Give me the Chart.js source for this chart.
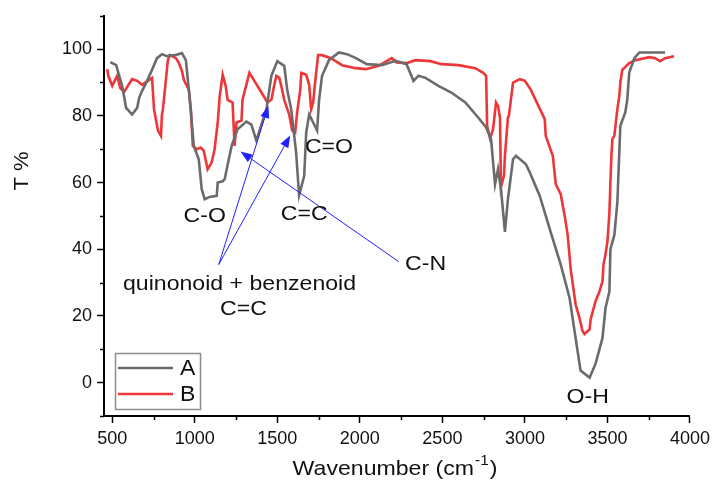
<!DOCTYPE html>
<html>
<head>
<meta charset="utf-8">
<script src="https://cdn.jsdelivr.net/npm/chart.js@4/dist/chart.umd.min.js"></script>
<style>
  html, body { margin: 0; padding: 0; background: #ffffff; }
  canvas { display: block; }
</style>
</head>
<body>
<canvas id="c" width="715" height="481"></canvas>
<script>
// ---- data ----
const waveA = [488,524,542,560,584,620,651,663,681,711,741,771,801,831,880,922,946,970,994,1024,1042,1060,1090,1133,1139,1169,1181,1223,1259,1313,1343,1373,1392,1434,1464,1500,1542,1560,1584,1614,1632,1663,1675,1693,1723,1741,1753,1771,1813,1873,1922,1976,2042,2133,2217,2283,2325,2355,2398,2476,2554,2639,2717,2765,2795,2819,2837,2855,2879,2897,2928,2946,3006,3030,3090,3157,3217,3271,3289,3319,3337,3392,3428,3470,3488,3512,3518,3542,3560,3578,3608,3620,3632,3663,3693,3849];
const transA = [96.1,95.2,92,89,82.4,80.4,82.4,85.4,87.5,90.5,93.8,97.3,98.5,97.9,98.2,98.8,96.7,84.8,71,67,58,55,55.7,56,60,60.4,61,71,76,78.3,77.4,72.6,75.6,82,92,96.4,95,87.8,82,69,56.2,62,75,80.4,77.4,75.6,84.8,92,96.7,99,98.5,97.3,95.5,95.2,96.5,95.5,90.5,92,91.4,89,87,84,79.5,76.5,73,59.5,64,58,45.2,55,67,68,65.5,63,56,45,35.4,25.3,19.3,9.5,3.6,1.5,5.7,13.4,22.3,27.4,40,44.3,54,77,81,84.8,93,97.3,99,99];

const waveB = [470,476,500,530,548,572,620,651,681,741,753,777,795,801,807,825,837,849,886,904,922,934,964,976,988,1012,1036,1054,1078,1102,1120,1139,1151,1169,1187,1199,1229,1241,1253,1283,1289,1331,1361,1404,1440,1464,1482,1494,1512,1524,1542,1572,1590,1608,1620,1639,1645,1675,1693,1705,1717,1729,1747,1771,1825,1892,1976,2036,2114,2193,2223,2283,2337,2428,2494,2596,2699,2747,2765,2771,2789,2807,2825,2837,2849,2855,2873,2879,2897,2903,2928,2970,3000,3036,3120,3126,3169,3187,3217,3241,3259,3277,3307,3331,3349,3361,3392,3398,3428,3452,3470,3476,3488,3500,3512,3518,3524,3530,3542,3560,3572,3578,3590,3632,3669,3753,3789,3819,3849,3903];
const transB = [94,92,89,92,88.4,87.2,91,90.5,89.3,91.4,82,75.6,74,80.4,82,90.8,96.7,98.2,97.3,95.8,93.5,90.8,87.8,82,71,70,70.5,69.6,64,66,70,78,86,92.3,89,84.8,84,71,78,78.6,84.8,92.9,90.5,87,84,84.8,89.3,92,91.4,89,84.8,80.4,75.6,75,81,87.8,92.9,92.3,89.3,82,84,90,98.2,98.2,97.3,95.2,94.3,94,95,97.3,96,95.8,96.7,96.4,95.5,95.2,94.3,92.9,92,77,73.2,76,84,83,79.5,58.6,62,68,79.5,80,90,91,90.5,87.8,79,74,68,59.5,56.5,50,44.3,34.2,23.5,19.3,15.5,14.6,16,19,24.4,27.4,30.4,35.4,38.4,42.3,51,60,68,73,74,82,86,90,93.8,95.8,96.7,97.6,97.3,96.4,97.3,97.9];

const seriesNames = ['A', 'B'];
const xMajorTicks = [500,1000,1500,2000,2500,3000,3500,4000];
const xMinorTicks = [750,1250,1750,2250,2750,3250,3750];
const yMajorTicks = [0,20,40,60,80,100];
const yMinorTicks = [-10,10,30,50,70,90,110];

// annotations (text in data coordinates)
const labelTexts = ['C-O','C=C','C=O','quinonoid + benzenoid','C=C','C-N','O-H'];
const labelAt    = [[1060,50],[1663,50.6],[1813,70.5],[1271,29.5],[1295,22],[2398,35.4],[3380,-4.5]];
// arrows: [fromX, fromY, toX, toY] in data coordinates
const arrows = [[1145,35.4,1446,83.0],[1145,35.4,1578,74.1],[2235,36.3,1277,69.3]];

const FONT = '"Liberation Sans", Arial, Helvetica, sans-serif';
const colA = '#6b6b6b';
const colB = '#ee3538';

function pts(xs, ys){ return xs.map((x,i)=>({x:x, y:ys[i]})); }

function stretchedText(ctx, text, x, y, size, sx, align){
  ctx.save();
  ctx.font = size + 'px ' + FONT;
  ctx.textBaseline = 'middle';
  ctx.textAlign = 'left';
  const w = ctx.measureText(text).width * sx;
  let x0 = x;
  if (align === 'center') x0 = x - w/2;
  else if (align === 'right') x0 = x - w;
  ctx.translate(x0, y);
  ctx.scale(sx, 1);
  ctx.fillText(text, 0, 0);
  ctx.restore();
  return w;
}

const decor = {
  id: 'decor',
  afterDraw(chart){
    const ctx = chart.ctx;
    const xs = chart.scales.x, ys = chart.scales.y;
    const ca = chart.chartArea;
    ctx.save();
    // minor ticks
    ctx.strokeStyle = '#000'; ctx.lineWidth = 1.5;
    xMinorTicks.forEach(v=>{
      const px = Math.round(xs.getPixelForValue(v)) + 0.5;
      ctx.beginPath(); ctx.moveTo(px, ca.bottom); ctx.lineTo(px, ca.bottom + 4); ctx.stroke();
    });
    yMinorTicks.forEach(v=>{
      const py = Math.round(ys.getPixelForValue(v)) + 0.5;
      ctx.beginPath(); ctx.moveTo(ca.left, py); ctx.lineTo(ca.left - 4, py); ctx.stroke();
    });

    // arrows
    ctx.strokeStyle = '#2020ff'; ctx.fillStyle = '#2020ff'; ctx.lineWidth = 1;
    arrows.forEach(a=>{
      const x1 = xs.getPixelForValue(a[0]), y1 = ys.getPixelForValue(a[1]);
      const x2 = xs.getPixelForValue(a[2]), y2 = ys.getPixelForValue(a[3]);
      const ang = Math.atan2(y2-y1, x2-x1);
      const hl = 12, hw = 4.5;
      const bx = x2 - hl*Math.cos(ang), by = y2 - hl*Math.sin(ang);
      ctx.beginPath(); ctx.moveTo(x1,y1); ctx.lineTo(bx,by); ctx.stroke();
      ctx.beginPath();
      ctx.moveTo(x2,y2);
      ctx.lineTo(bx + hw*Math.sin(ang), by - hw*Math.cos(ang));
      ctx.lineTo(bx - hw*Math.sin(ang), by + hw*Math.cos(ang));
      ctx.closePath(); ctx.fill();
    });

    // text labels
    ctx.fillStyle = '#111';
    labelTexts.forEach((t,i)=>{
      const px = xs.getPixelForValue(labelAt[i][0]);
      const py = ys.getPixelForValue(labelAt[i][1]);
      stretchedText(ctx, t, px, py, 21, 1.1, 'center');
    });

    // legend
    const lx = 115, ly = 353, lw = 85, lh = 56;
    ctx.strokeStyle = '#8c8c8c'; ctx.lineWidth = 1.5;
    ctx.strokeRect(lx + 0.5, ly + 0.5, lw, lh);
    chart.data.datasets.forEach((ds,i)=>{
      const yy = ly + 15 + i*26;
      ctx.strokeStyle = ds.borderColor; ctx.lineWidth = 2.5;
      ctx.beginPath(); ctx.moveTo(lx + 3, yy); ctx.lineTo(lx + 58, yy); ctx.stroke();
      ctx.fillStyle = '#111';
      stretchedText(ctx, ds.label, lx + 65, yy + 1, 22, 1.05, 'left');
    });

    // x title with superscript
    ctx.fillStyle = '#111';
    ctx.font = '21px ' + FONT;
    const sx = 1.1;
    const p1 = 'Wavenumber (cm', p2 = '-1', p3 = ')';
    const w1 = ctx.measureText(p1).width * sx;
    ctx.font = '14px ' + FONT;
    const w2 = ctx.measureText(p2).width * sx;
    ctx.font = '21px ' + FONT;
    const w3 = ctx.measureText(p3).width * sx;
    const cx = (ca.left + ca.right) / 2;
    let x0 = cx - (w1 + w2 + w3) / 2 - 3;
    const ty = 469;
    stretchedText(ctx, p1, x0, ty, 21, sx, 'left');
    stretchedText(ctx, p2, x0 + w1 + 1, ty - 8, 14, sx, 'left');
    stretchedText(ctx, p3, x0 + w1 + w2 + 2, ty, 21, sx, 'left');

    // y title
    ctx.save();
    ctx.translate(22, 171);
    ctx.rotate(-Math.PI/2);
    stretchedText(ctx, 'T %', 0, 0, 21, 1.05, 'center');
    ctx.restore();

    ctx.restore();
  }
};

const tickFont = { family: FONT, size: 18 };

new Chart(document.getElementById('c'), {
  type: 'line',
  data: {
    datasets: [
      { label: seriesNames[0], data: pts(waveA, transA), borderColor: colA, borderWidth: 2.6, pointRadius: 0, tension: 0, fill: false },
      { label: seriesNames[1], data: pts(waveB, transB), borderColor: colB, borderWidth: 2.6, pointRadius: 0, tension: 0, fill: false }
    ]
  },
  options: {
    responsive: false,
    animation: false,
    devicePixelRatio: 1,
    layout: { padding: { top: 12, right: 23, left: 0, bottom: 0 } },
    plugins: { legend: { display: false }, tooltip: { enabled: false }, title: { display: false } },
    scales: {
      x: {
        type: 'linear', min: 450, max: 4000,
        afterBuildTicks: s => { s.ticks = xMajorTicks.map(v => ({ value: v })); },
        afterFit: s => { s.height = 65; },
        border: { display: true, color: '#000', width: 2 },
        grid: { display: true, drawOnChartArea: false, drawTicks: true, tickLength: 7, tickColor: '#000', tickWidth: 1.5 },
        ticks: { autoSkip: false, maxRotation: 0, padding: 5, color: '#111', font: tickFont, callback: v => String(v) }
      },
      y: {
        type: 'linear', min: -10, max: 110,
        afterBuildTicks: s => { s.ticks = yMajorTicks.map(v => ({ value: v })); },
        afterFit: s => { s.width = 104; },
        border: { display: true, color: '#000', width: 2 },
        grid: { display: true, drawOnChartArea: false, drawTicks: true, tickLength: 7, tickColor: '#000', tickWidth: 1.5 },
        ticks: { autoSkip: false, padding: 5, color: '#111', font: tickFont, callback: v => String(v) }
      }
    }
  },
  plugins: [decor]
});
</script>
</body>
</html>
